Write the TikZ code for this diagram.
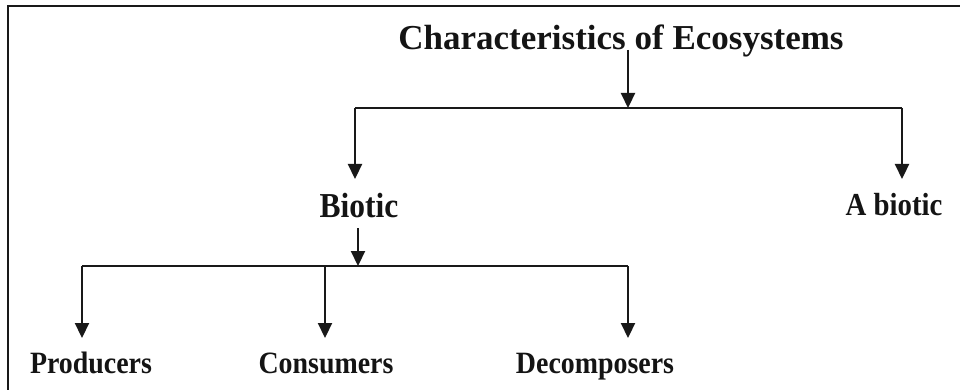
\documentclass[tikz,border=0pt]{standalone}
\usepackage{graphicx}
\usepackage{fontspec}
\setmainfont{Liberation Serif}
\usetikzlibrary{arrows.meta}
\newcommand{\narrowtext}[1]{\scalebox{0.9}[1]{#1}}
\begin{document}
\begin{tikzpicture}[x=1pt,y=-1pt,
  lbl/.style={font=\bfseries\fontsize{31}{33}\selectfont, anchor=base, inner sep=0pt, text=black!92},
  ttl/.style={font=\bfseries\fontsize{35}{40}\selectfont, anchor=base, inner sep=0pt, text=black!92},
  conn/.style={line width=2.2pt, draw=black!90},
  arr/.style={conn, -{Triangle[width=14pt,length=15pt]}}]
\useasboundingbox (0,0) rectangle (960,390);
% frame
\draw[line width=2.4pt, draw=black!90] (8,390) -- (8,6) -- (960,6);
% nodes
\node[ttl] (title) at (621,50) {Characteristics of Ecosystems};
\node[lbl,font=\bfseries\fontsize{35}{37}\selectfont] (biotic) at (359,217) {\narrowtext{Biotic}};
\node[lbl,font=\bfseries\fontsize{32}{34}\selectfont] (abiotic) at (894,215) {\narrowtext{A biotic}};
\node[lbl] (prod) at (91,373) {\narrowtext{Producers}};
\node[lbl] (cons) at (326,373) {\narrowtext{Consumers}};
\node[lbl] (decomp) at (595,373) {\narrowtext{Decomposers}};
% coordinates
\coordinate (ts) at (628,50);
\coordinate (tj) at (628,108);
\coordinate (tl) at (355,108);
\coordinate (tr) at (902,108);
\coordinate (bl) at (355,179);
\coordinate (br) at (902,179);
\coordinate (bs) at (358,228);
\coordinate (bj) at (358,266);
\coordinate (l1) at (82,266);
\coordinate (l2) at (325,266);
\coordinate (l3) at (628,266);
\coordinate (d1) at (82,338);
\coordinate (d2) at (325,338);
\coordinate (d3) at (628,338);
% connectors
\draw[arr] (ts) -- (tj);
\draw[conn] (tl) -- (tr);
\draw[arr] (tl) -- (bl);
\draw[arr] (tr) -- (br);
\draw[arr] (bs) -- (bj);
\draw[conn] (l1) -- (l3);
\draw[arr] (l1) -- (d1);
\draw[arr] (l2) -- (d2);
\draw[arr] (l3) -- (d3);
\end{tikzpicture}
\end{document}
